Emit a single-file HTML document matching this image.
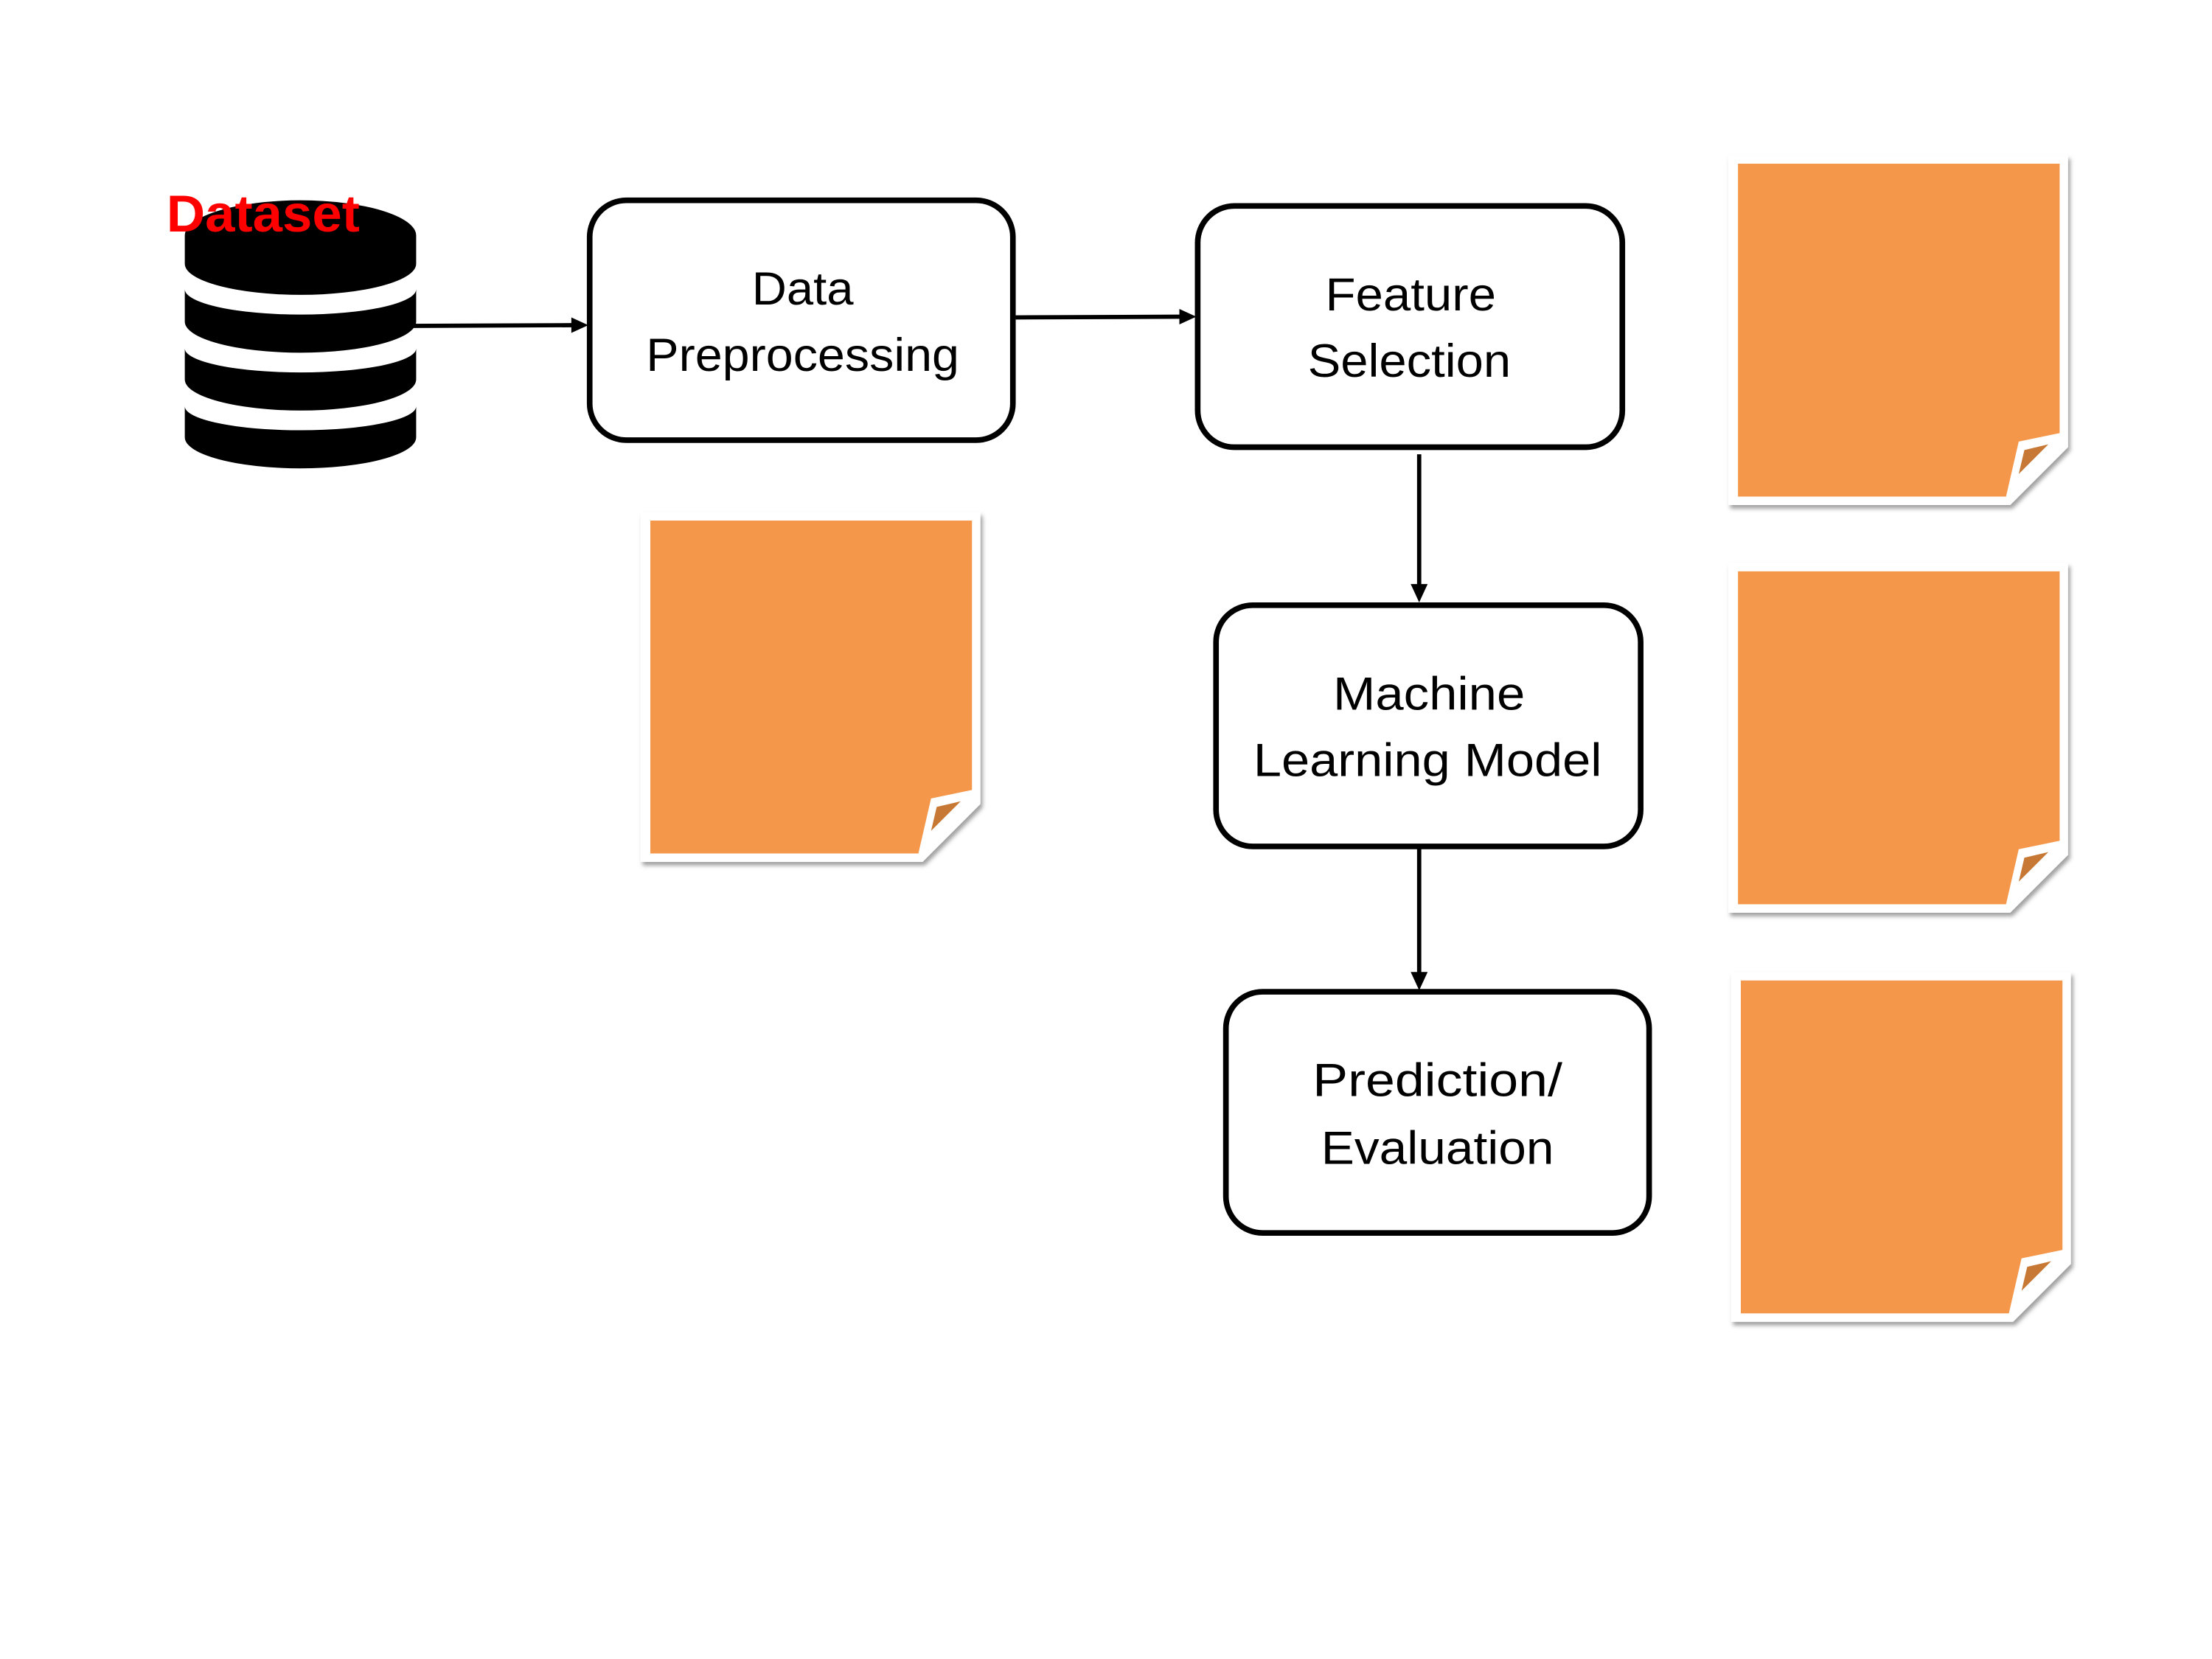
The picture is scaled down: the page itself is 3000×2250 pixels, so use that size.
<!DOCTYPE html>
<html><head><meta charset="utf-8"><style>html,body{margin:0;padding:0;background:#fff}svg{display:block}</style></head>
<body>
<svg xmlns="http://www.w3.org/2000/svg" width="3000" height="2250" viewBox="0 0 1568 1176">
<defs>
<filter id="sh" x="-10%" y="-10%" width="130%" height="130%"><feDropShadow dx="1.5" dy="2.5" stdDeviation="1.5" flood-color="#777" flood-opacity="0.7"/></filter>
<g id="note">
<polygon points="0,0 241,0 241,207 200,248 0,248" fill="#fff" filter="url(#sh)"/>
<polygon points="7,6 235,6 235,197 206,203 197,242 7,242" fill="#F4974A"/>
<polygon points="210,209 227,205 206,226" fill="#C67834"/>
</g>
</defs>
<rect width="1568" height="1176" fill="#fff"/>
<g fill="#000">
<path d="M131,167 A82,25 0 0 1 295,167 L295,187 A82,22 0 0 1 131,187 Z"/>
<path d="M131,205 A82,18 0 0 0 295,205 L295,228 A82,22 0 0 1 131,228 Z"/>
<path d="M131,247 A82,17 0 0 0 295,247 L295,269 A82,22 0 0 1 131,269 Z"/>
<path d="M131,288 A82,17 0 0 0 295,288 L295,310 A82,22 0 0 1 131,310 Z"/>
</g>
<text x="118" y="164" font-family="Liberation Sans, sans-serif" font-weight="bold" font-size="37" fill="#f00" textLength="137" lengthAdjust="spacingAndGlyphs">Dataset</text>
<g fill="none" stroke="#000" stroke-width="4">
<rect x="418" y="142" width="300" height="170" rx="26"/>
<rect x="849" y="146" width="301" height="171" rx="26"/>
<rect x="862" y="429" width="301" height="171" rx="26"/>
<rect x="869" y="703" width="300" height="171" rx="26"/>
<line x1="290" y1="231" x2="406" y2="230.5" stroke-width="3"/>
<line x1="720" y1="225" x2="837" y2="224.5" stroke-width="3"/>
<line x1="1006" y1="322" x2="1006" y2="415" stroke-width="3"/>
<line x1="1006" y1="600" x2="1006" y2="690" stroke-width="3"/>
</g>
<g fill="#000">
<polygon points="405,225 417,230.5 405,236"/>
<polygon points="836,219 848,224.5 836,230"/>
<polygon points="1000,414 1012,414 1006,427"/>
<polygon points="1000,689 1012,689 1006,702"/>
</g>
<g font-family="Liberation Sans, sans-serif" font-size="33" fill="#000" text-anchor="middle" lengthAdjust="spacingAndGlyphs">
<text x="569" y="216" textLength="72" lengthAdjust="spacingAndGlyphs">Data</text>
<text x="569" y="263" textLength="222" lengthAdjust="spacingAndGlyphs">Preprocessing</text>
<text x="1000" y="220" textLength="121" lengthAdjust="spacingAndGlyphs">Feature</text>
<text x="999" y="267" textLength="144" lengthAdjust="spacingAndGlyphs">Selection</text>
<text x="1013" y="503" textLength="136" lengthAdjust="spacingAndGlyphs">Machine</text>
<text x="1012" y="550" textLength="247" lengthAdjust="spacingAndGlyphs">Learning Model</text>
<text x="1019" y="777" textLength="177" lengthAdjust="spacingAndGlyphs">Prediction/</text>
<text x="1019" y="825" textLength="165" lengthAdjust="spacingAndGlyphs">Evaluation</text>
</g>
<use href="#note" x="1225" y="110"/>
<use href="#note" x="1225" y="399"/>
<use href="#note" x="1227" y="689"/>
<use href="#note" x="454" y="363"/>
</svg>
</body></html>
